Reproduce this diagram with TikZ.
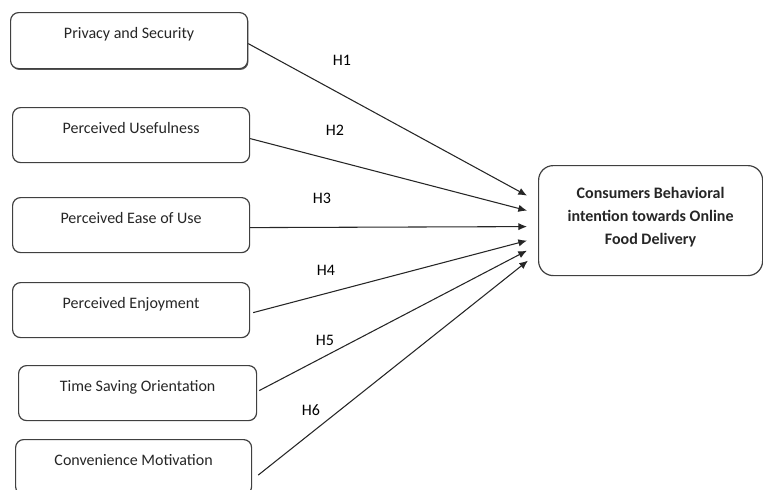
\documentclass[tikz,border=0pt]{standalone}
\usepackage{fontspec}
\setmainfont{Carlito}
\usepackage{tikz}
\usetikzlibrary{arrows.meta,calc,shadows}

\begin{document}
\begin{tikzpicture}[
      x = 0.75pt, y = -0.75pt,
      > = {Latex[length=6.5pt, width=5.5pt]},
      font = \fontsize{12}{14}\selectfont
    ]
    \tikzstyle{my line} = [->, line width=0.8pt, draw=black!85]
    \tikzstyle{factor} = [draw=black!75, line width=0.9pt, fill=white,
      rounded corners=6pt, inner sep=0pt, minimum width=177.75pt,
      text height=19.5pt, text depth=21.75pt, text=black!85]
    \tikzstyle{goal box} = [draw=black!75, line width=0.9pt, fill=white,
      rounded corners=11pt, minimum width=168pt, minimum height=82.5pt,
      align=center, text=black!85,
      font=\fontsize{12}{17.25}\selectfont\bfseries]
    \useasboundingbox (0,0) rectangle (763,489);
    \node[factor, anchor=north west, text depth=22.5pt,
      drop shadow={shadow xshift=0.6pt, shadow yshift=-1pt,
      opacity=1, fill=black!65}] (ps) at (10,12) {Privacy and Security};
    \node[factor, anchor=north west] (pu) at (12,107) {Perceived Usefulness};
    \node[factor, anchor=north west] (peou) at (12,197) {Perceived Ease of Use};
    \node[factor, anchor=north west] (pe) at (12,282) {Perceived Enjoyment};
    \node[factor, anchor=north west, minimum width=178.5pt] (tso) at (18,365) {Time Saving Orientation};
    \node[factor, anchor=north west, minimum width=177pt] (cm) at (15,439) {Convenience Motivation};
    \node[goal box, anchor=north west] (bi) at (538,165)
      {Consumers Behavioral\\intention towards Online\\Food Delivery\\[-9.75pt]};
    \draw[my line] ($(ps.east)+(0,3)$) -- ($(bi.west)+(-11,-25)$);
    \draw[my line] ($(pu.east)+(0,3.5)$) -- ($(bi.west)+(-11,-10)$);
    \draw[my line] ($(peou.east)+(0,2.5)$) -- ($(bi.west)+(-11,6)$);
    \draw[my line] ($(pe.east)+(3,2.5)$) -- ($(bi.west)+(-11,20)$);
    \draw[my line] ($(tso.east)+(2,-2.5)$) -- ($(bi.west)+(-11,30)$);
    \draw[my line] ($(cm.east)+(6,8)$) -- ($(bi.west)+(-10,40)$);
    \node (h1) at (342,60) {H1};
    \node (h2) at (335,130) {H2};
    \node (h3) at (322,198) {H3};
    \node (h4) at (326,270) {H4};
    \node (h5) at (325,340) {H5};
    \node (h6) at (311,410) {H6};
  \end{tikzpicture}
\end{document}
